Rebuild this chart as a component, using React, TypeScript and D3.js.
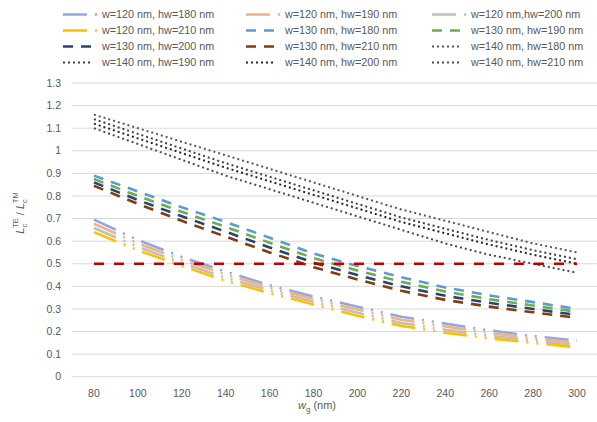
import React from 'react';
import * as d3 from 'd3';

const categories = [80, 100, 120, 140, 160, 180, 200, 220, 240, 260, 280, 300];
const yTicks = [0, 0.1, 0.2, 0.3, 0.4, 0.5, 0.6, 0.7, 0.8, 0.9, 1, 1.1, 1.2, 1.3];

const seriesNames = [
  'w=120 nm, hw=180 nm', 'w=120 nm, hw=190 nm', 'w=120 nm,hw=200 nm',
  'w=120 nm, hw=210 nm', 'w=130 nm, hw=180 nm', 'w=130 nm, hw=190 nm',
  'w=130 nm, hw=200 nm', 'w=130 nm, hw=210 nm', 'w=140 nm, hw=180 nm',
  'w=140 nm, hw=190 nm', 'w=140 nm, hw=200 nm', 'w=140 nm, hw=210 nm',
];

const w120hw180 = [0.695, 0.605, 0.53, 0.465, 0.405, 0.355, 0.31, 0.265, 0.235, 0.205, 0.18, 0.16];
const w120hw190 = [0.677, 0.59, 0.517, 0.452, 0.394, 0.344, 0.297, 0.252, 0.222, 0.193, 0.17, 0.15];
const w120hw200 = [0.658, 0.575, 0.503, 0.438, 0.382, 0.332, 0.283, 0.238, 0.208, 0.181, 0.16, 0.14];
const w120hw210 = [0.64, 0.56, 0.49, 0.425, 0.37, 0.32, 0.27, 0.225, 0.195, 0.17, 0.15, 0.13];

const w130hw180 = [0.89, 0.82, 0.75, 0.685, 0.615, 0.545, 0.49, 0.44, 0.395, 0.36, 0.33, 0.30];
const w130hw190 = [0.875, 0.80, 0.73, 0.663, 0.593, 0.525, 0.47, 0.42, 0.377, 0.343, 0.315, 0.287];
const w130hw200 = [0.86, 0.782, 0.71, 0.642, 0.572, 0.505, 0.45, 0.40, 0.358, 0.327, 0.30, 0.273];
const w130hw210 = [0.845, 0.765, 0.69, 0.62, 0.55, 0.485, 0.43, 0.38, 0.34, 0.31, 0.285, 0.26];

const w140hw180 = [1.16, 1.10, 1.04, 0.98, 0.92, 0.86, 0.80, 0.74, 0.69, 0.64, 0.59, 0.55];
const w140hw190 = [1.14, 1.075, 1.01, 0.945, 0.885, 0.825, 0.765, 0.705, 0.655, 0.605, 0.56, 0.52];
const w140hw200 = [1.12, 1.055, 0.99, 0.925, 0.865, 0.805, 0.745, 0.685, 0.635, 0.585, 0.54, 0.50];
const w140hw210 = [1.10, 1.03, 0.96, 0.89, 0.83, 0.77, 0.71, 0.65, 0.59, 0.54, 0.50, 0.46];

const threshold = [0.5, 0.5, 0.5, 0.5, 0.5, 0.5, 0.5, 0.5, 0.5, 0.5, 0.5, 0.5];

const seriesValues = [
  w120hw180, w120hw190, w120hw200, w120hw210,
  w130hw180, w130hw190, w130hw200, w130hw210,
  w140hw180, w140hw190, w140hw200, w140hw210,
];

const colors = [
  '#8faadc', '#f4b183', '#bfbfbf', '#ffc000',
  '#5b9bd5', '#70ad47', '#264478', '#843c0c',
  '#595959', '#404040', '#262626', '#4d4d4d',
];

const styleFor = (i: number) => {
  if (i < 4) return { dash: '24 8 2 8 2 8', width: 2.6 };
  if (i < 8) return { dash: '10 8', width: 2.6 };
  return { dash: '2 3', width: 2 };
};

export default function App() {
  const W = 597, H = 422;
  const x = d3.scaleBand<number>().domain(categories).range([72, 599]).padding(0);
  const cx = (c: number) => (x(c) as number) + x.bandwidth() / 2;
  const y = d3.scaleLinear().domain([0, 1.3]).range([376.7, 83]);
  const line = d3.line<number>().x((_, i) => cx(categories[i])).y((v) => y(v));

  const legendCols = [63, 246, 432];
  const legendRows = [14.5, 30.5, 46.5, 62.5];
  const font = "'Liberation Sans', Arial, sans-serif";

  return (
    <svg width={W} height={H} style={{ position: 'absolute', left: 0, top: 0, background: '#fff' }} fontFamily={font}>
      {yTicks.map((t) => (
        <line key={'g' + t} x1={72} x2={598} y1={y(t)} y2={y(t)} stroke="#d9d9d9" strokeWidth={1} />
      ))}
      {yTicks.map((t) => (
        <text key={'yt' + t} x={61} y={y(t)} dy="0.35em" textAnchor="end" fontSize={10.5} fill="#595959">
          {d3.format('~g')(t)}
        </text>
      ))}
      {categories.map((c) => (
        <text key={'xt' + c} x={cx(c)} y={397} textAnchor="middle" fontSize={10.5} fill="#595959">
          {c}
        </text>
      ))}
      <text x={317} y={409} textAnchor="middle" fontSize={11} fill="#595959">
        <tspan fontStyle="italic">w</tspan>
        <tspan fontSize={8} dy={3}>g</tspan>
        <tspan dy={-3}> (nm)</tspan>
      </text>
      <g transform="translate(24,213) rotate(-90)">
        <text textAnchor="middle" fontSize={11} fill="#595959">
          <tspan fontStyle="italic">L</tspan>
          <tspan fontSize={7.5} dy={3}>c</tspan>
          <tspan fontSize={7.5} dx={-4} dy={-9}>TE</tspan>
          <tspan dy={6}> / </tspan>
          <tspan fontStyle="italic">L</tspan>
          <tspan fontSize={7.5} dy={3}>c</tspan>
          <tspan fontSize={7.5} dx={-4} dy={-9}>TM</tspan>
        </text>
      </g>
      {seriesValues.map((vals, i) => {
        const s = styleFor(i);
        return (
          <path key={'s' + i} d={line(vals) || ''} fill="none" stroke={colors[i]}
            strokeWidth={s.width} strokeDasharray={s.dash} strokeLinejoin="round" />
        );
      })}
      <path d={line(threshold) || ''} fill="none" stroke="#c00000" strokeWidth={2.6} strokeDasharray="10 10" />
      {seriesNames.map((name, i) => {
        const col = i % 3;
        const row = Math.floor(i / 3);
        const lx = legendCols[col];
        const ly = legendRows[row];
        const s = styleFor(i);
        const len = i < 4 ? 36 : 30;
        return (
          <g key={'l' + i}>
            <line x1={lx} x2={lx + len} y1={ly} y2={ly} stroke={colors[i]} strokeWidth={s.width}
              strokeDasharray={s.dash} />
            <text x={lx + 39} y={ly} dy="0.35em" fontSize={10.8} fill="#595959">{name}</text>
          </g>
        );
      })}
    </svg>
  );
}
